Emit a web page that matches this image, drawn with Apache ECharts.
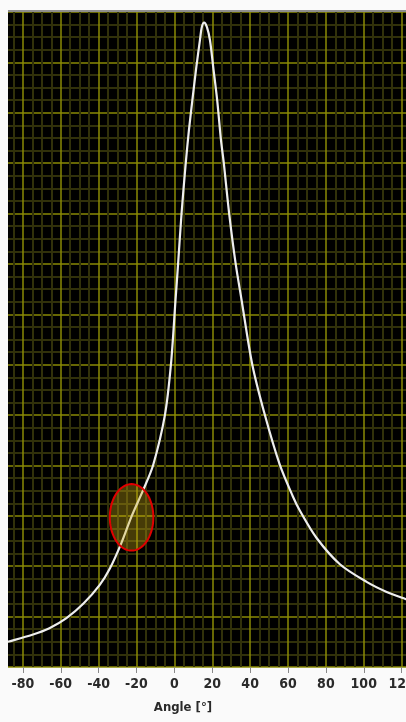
<!DOCTYPE html>
<html>
<head>
<meta charset="utf-8">
<script src="https://cdn.jsdelivr.net/npm/echarts@6/dist/echarts.min.js"></script>
<style>
html,body{margin:0;padding:0;background:#fafafa;}
#c{width:406px;height:722px;}
</style>
</head>
<body>
<div id="c"></div>
<script>
// Data
const angles = [-90, -88, -75, -66, -57, -48, -39.4, -34, -28, -22.5, -16.5, -11.2, -5, -1.8, 0.6, 2, 3.8, 6.0, 7.7, 9.5, 11.6, 13.5, 14.5, 15.7, 17.2, 18.8, 20.5, 22.6, 24.6, 26.1, 28.9, 32.3, 35.5, 41.1, 47.8, 55.7, 62.4, 66.3, 75.1, 87.4, 101.5, 112.1, 122, 126];
const intensity = [4.8, 5.0, 6.4, 7.7, 9.7, 12.6, 16.3, 19.6, 24.6, 30.0, 35.1, 40.1, 50.0, 60.1, 72.8, 80.2, 90.1, 100.0, 106.6, 112.5, 119.1, 124.4, 127.0, 127.9, 127.0, 124.4, 119.1, 112.5, 104.6, 100.0, 90.1, 80.2, 72.8, 60.1, 50.0, 40.1, 34.0, 31.0, 25.6, 20.4, 16.9, 14.9, 13.5, 13.0];
const xTickLabels = [-80, -60, -40, -20, 0, 20, 40, 60, 80, 100, 120];
const markerCenter = [-22.6, 29.7];
const markerRadius = [11.5, 6.6];
const xTitle = 'Angle [°]';

const chart = echarts.init(document.getElementById('c'), null, {renderer: 'canvas'});
const lineData = angles.map((a, i) => [a, intensity[i]]);
const labelFont = "'DejaVu Sans Condensed', 'Liberation Sans Narrow', sans-serif";

chart.setOption({
  backgroundColor: '#fafafa',
  animation: false,
  grid: {
    left: -15, right: -33.5, top: 12, bottom: 55,
    outerBoundsMode: 'none', containLabel: false,
    show: true, backgroundColor: '#000000', borderWidth: 0
  },
  xAxis: {
    type: 'value', min: -100, max: 140, interval: 20,
    axisLine: {show: false},
    axisTick: {show: true, length: 6, lineStyle: {color: '#8a8a8a', width: 1}},
    axisLabel: {
      show: true, margin: 10, fontSize: 14, fontWeight: 'bold', color: '#2a2a2a',
      fontFamily: labelFont,
      formatter: v => xTickLabels.indexOf(v) >= 0 ? String(v) : ''
    },
    splitLine: {show: true, lineStyle: {color: '#8a8a04', width: 1.5}},
    minorTick: {show: false, splitNumber: 4},
    minorSplitLine: {show: true, lineStyle: {color: '#31310a', width: 2}}
  },
  yAxis: {
    type: 'value', min: 0, max: 130, interval: 10,
    axisLine: {show: false}, axisTick: {show: false}, axisLabel: {show: false},
    splitLine: {show: true, lineStyle: {color: '#8a8a04', width: 1.5}},
    minorTick: {show: false, splitNumber: 4},
    minorSplitLine: {show: true, lineStyle: {color: '#31310a', width: 2}}
  },
  series: [
    {
      type: 'line', data: lineData, smooth: 0.3, showSymbol: false,
      lineStyle: {color: '#eeeeee', width: 2.2}, z: 3
    },
    {
      type: 'custom', z: 4,
      data: [[markerCenter[0], markerCenter[1], markerRadius[0], markerRadius[1]]],
      renderItem: function (params, api) {
        const c = api.coord([api.value(0), api.value(1)]);
        const s = api.size([api.value(2), api.value(3)]);
        const pts = [];
        for (let k = 0; k < 72; k++) {
          const t = k / 72 * Math.PI * 2;
          pts.push([c[0] + s[0] * Math.cos(t), c[1] + s[1] * Math.sin(t)]);
        }
        return {
          type: 'polygon', shape: {points: pts},
          style: {fill: 'rgba(200,170,20,0.35)', stroke: '#e00000', lineWidth: 2}
        };
      }
    }
  ],
  graphic: [
    {type: 'rect', z: 100, shape: {x: 0, y: 0, width: 8, height: 722}, style: {fill: '#fafafa'}},
    {type: 'rect', z: 100, shape: {x: 0, y: 0, width: 406, height: 10}, style: {fill: '#fafafa'}},
    {type: 'rect', z: 100, shape: {x: 8, y: 10, width: 398, height: 2}, style: {fill: '#8e8e8e'}},
    {type: 'text', z: 100, x: 183, y: 708, style: {
      text: xTitle, fill: '#2a2a2a', font: "bold 13px " + labelFont,
      align: 'center', verticalAlign: 'middle'
    }}
  ]
});
</script>
</body>
</html>
